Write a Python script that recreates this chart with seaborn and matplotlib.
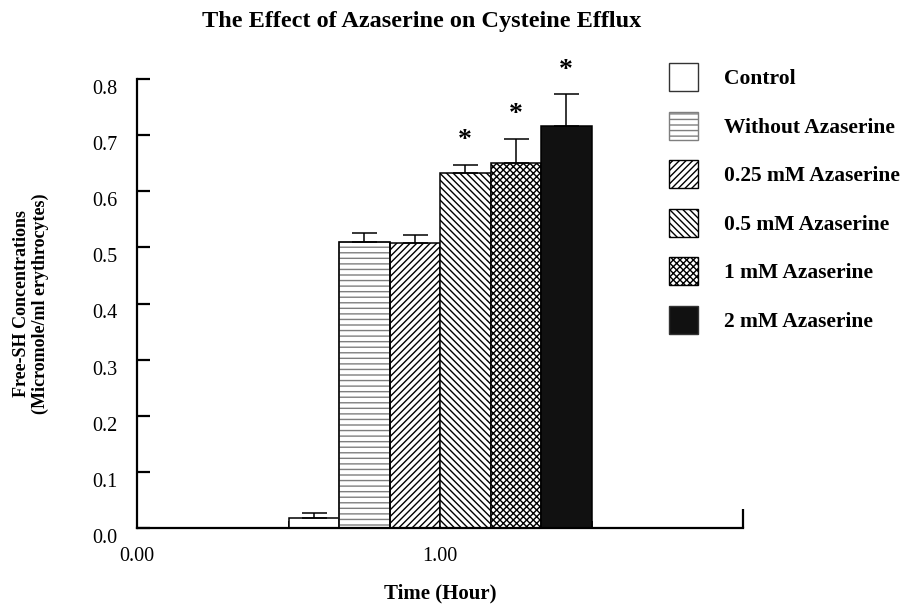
import matplotlib
matplotlib.use("Agg")
import matplotlib.pyplot as plt
import matplotlib.patches as mpatches
import matplotlib.transforms as mtransforms
import numpy as np
import pandas as pd
import seaborn as sns

# ---- data ----
treatments = ["Control", "Without Azaserine", "0.25 mM Azaserine",
              "0.5 mM Azaserine", "1 mM Azaserine", "2 mM Azaserine"]
time_hour = [1.00, 1.00, 1.00, 1.00, 1.00, 1.00]
means = [0.017, 0.510, 0.508, 0.633, 0.650, 0.716]
sems = [0.010, 0.015, 0.014, 0.014, 0.043, 0.057]
significant = [False, False, False, True, True, True]
y_ticks = [0.0, 0.1, 0.2, 0.3, 0.4, 0.5, 0.6, 0.7, 0.8]
x_tick_labels = ["0.00", "", "1.00", ""]

# ---- styles ----
fills = ["white", "white", "white", "white", "white", "#111111"]
hatches = [None, "---", "/////", "\\\\\\\\\\", "xxxxx", None]
hatch_colors = ["black", "#7f7f7f", "black", "black", "black", "black"]

sns.set_theme(style="white")
plt.rcParams["font.family"] = ["Liberation Serif", "DejaVu Serif"]
plt.rcParams["hatch.linewidth"] = 1.0
plt.rcParams["text.color"] = "black"
plt.rcParams["axes.labelcolor"] = "black"

df = pd.DataFrame({"time": time_hour, "treatment": treatments, "value": means})

fig = plt.figure(figsize=(9.13, 6.05), dpi=100)
ax = fig.add_axes([137 / 913, 1 - 528 / 605, (743 - 137) / 913, (528 - 79) / 605])

sns.barplot(data=df, x="time", y="value", hue="treatment", hue_order=treatments,
            palette=dict(zip(treatments, fills)), native_scale=True, width=1.0,
            errorbar=None, legend=False, ax=ax, saturation=1)

centers = []
for cont, fc, h, hc in zip(ax.containers, fills, hatches, hatch_colors):
    for p in cont.patches:
        p.set_facecolor(fc)
        p.set_linewidth(1.1)
        if h:
            p.set_hatch(h)
            p.set_edgecolor(hc)
            if hc != "black":
                ax.add_patch(mpatches.Rectangle((p.get_x(), p.get_y()), p.get_width(),
                                                p.get_height(), fill=False,
                                                edgecolor="black", linewidth=1.1,
                                                zorder=p.get_zorder()))
        else:
            p.set_edgecolor("black")
        centers.append(p.get_x() + p.get_width() / 2)

centers = np.array(centers)
ax.errorbar(centers, means, yerr=[np.zeros(len(sems)), sems], fmt="none",
            ecolor="black", elinewidth=1.1, capsize=9, capthick=1.1, zorder=1)

for c, m, s, sig in zip(centers, means, sems, significant):
    if sig:
        ax.text(c, m + s + 0.043, "*", ha="center", va="center", fontsize=20,
                fontweight="bold", color="black", clip_on=False)

ax.set_xlim(0, 2.0)
ax.set_ylim(0, 0.8)
ax.set_yticks(y_ticks)
ax.set_yticklabels([f"{v:.1f}" for v in y_ticks])
ax.set_xticks([0.0, 0.5, 1.0, 1.5])
ax.set_xticklabels(x_tick_labels)
ax.set_xticks([2.0], minor=True)

for side in ["top", "right"]:
    ax.spines[side].set_visible(False)
for side in ["left", "bottom"]:
    ax.spines[side].set_linewidth(1.6)
    ax.spines[side].set_color("black")

ax.tick_params(axis="y", direction="in", length=9.5, width=1.6, pad=14,
               labelsize=14.5, colors="black", left=True)
ax.tick_params(axis="x", which="major", direction="in", length=5, width=1.2, pad=14,
               labelsize=14.5, colors="black", bottom=True)
ax.tick_params(axis="x", which="minor", direction="in", length=14, width=1.6,
               colors="black", bottom=True)

offset = mtransforms.ScaledTranslation(0, -0.08, fig.dpi_scale_trans)
for lab in ax.get_yticklabels():
    lab.set_transform(lab.get_transform() + offset)

ax.set_xlabel("Time (Hour)", fontsize=15, fontweight="bold", labelpad=12, color="black")
ax.set_ylabel("Free-SH Concentrations\n(Micromole/ml erythrocytes)", fontsize=13,
              fontweight="bold", labelpad=31, linespacing=1.15, color="black")
fig.text(0.462, 0.965, "The Effect of Azaserine on Cysteine Efflux", ha="center",
         va="center", fontsize=17.5, fontweight="bold", color="black")

handles = []
for fc, h, hc in zip(fills, hatches, hatch_colors):
    handles.append(mpatches.Patch(facecolor=fc, hatch=h,
                                  edgecolor=hc if h else "#333333", linewidth=1.0))
leg = fig.legend(handles=handles, labels=treatments, loc="upper left",
                 bbox_to_anchor=(669 / 913, 1 - 63 / 605), frameon=False,
                 prop={"weight": "bold", "size": 15.5}, handlelength=1.35,
                 handleheight=1.63, labelspacing=0.95, handletextpad=1.2,
                 borderpad=0, borderaxespad=0, labelcolor="black")

fig.savefig("out.png", dpi=100)
